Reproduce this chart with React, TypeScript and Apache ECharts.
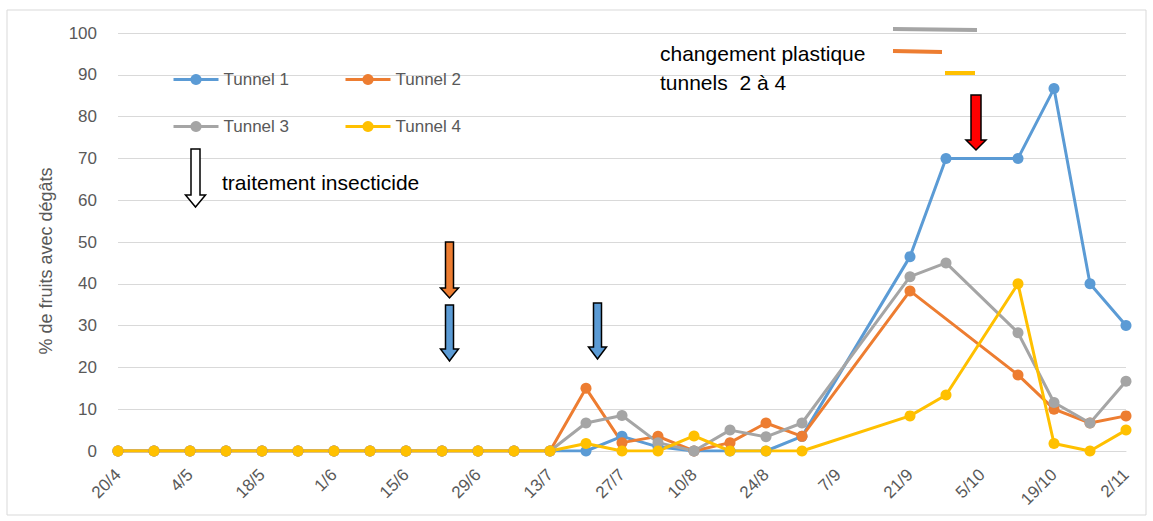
import React, { useEffect, useRef } from "react";
import * as echarts from "echarts";

const dates = [
  "20/4", "27/4", "4/5", "11/5", "18/5", "25/5", "1/6", "8/6", "15/6", "22/6",
  "29/6", "6/7", "13/7", "20/7", "27/7", "3/8", "10/8", "17/8", "24/8", "31/8",
  "7/9", "14/9", "21/9", "28/9", "5/10", "12/10", "19/10", "26/10", "2/11",
];

const tunnel1 = [0, 0, 0, 0, 0, 0, 0, 0, 0, 0, 0, 0, 0, 0, 3.5, 1, 0, 0, 0, 3.5, null, null, 46.5, 70, null, 70, 86.7, 40, 30];
const tunnel2 = [0, 0, 0, 0, 0, 0, 0, 0, 0, 0, 0, 0, 0, 15, 2, 3.5, 0, 2, 6.7, 3.5, null, null, 38.3, null, null, 18.2, 10, 6.7, 8.4];
const tunnel3 = [0, 0, 0, 0, 0, 0, 0, 0, 0, 0, 0, 0, 0, 6.7, 8.5, 2, 0, 5, 3.4, 6.7, null, null, 41.7, 45, null, 28.3, 11.6, 6.7, 16.7];
const tunnel4 = [0, 0, 0, 0, 0, 0, 0, 0, 0, 0, 0, 0, 0, 1.8, 0, 0, 3.6, 0, 0, 0, null, null, 8.4, 13.4, null, 40, 1.8, 0, 5];

const seriesNames = ["Tunnel 1", "Tunnel 2", "Tunnel 3", "Tunnel 4"];
const seriesData = [tunnel1, tunnel2, tunnel3, tunnel4];
const colors = ["#5B9BD5", "#ED7D31", "#A5A5A5", "#FFC000"];

const yAxisName = "% de fruits avec dégâts";
const noteInsecticide = "traitement insecticide";
const notePlastic1 = "changement plastique";
const notePlastic2 = "tunnels  2 à 4";

function arrow(cx: number, top: number, headTop: number, tip: number, sh: number, hh: number, fill: string) {
  return {
    type: "polygon",
    shape: {
      points: [
        [cx - sh, top], [cx + sh, top], [cx + sh, headTop], [cx + hh, headTop],
        [cx, tip], [cx - hh, headTop], [cx - sh, headTop],
      ],
    },
    style: { fill, stroke: "#000", lineWidth: 1.5 },
    z: 100,
  };
}

export default function App() {
  const ref = useRef<HTMLDivElement>(null);
  useEffect(() => {
    if (!ref.current) return;
    const chart = echarts.init(ref.current, null, { renderer: "svg" });
    const font = "Liberation Sans, Arial, sans-serif";
    const legendPos = [
      [172, 71], [344, 71], [172, 118], [344, 118],
    ];
    chart.setOption({
      animation: false,
      color: colors,
      textStyle: { fontFamily: font },
      grid: { left: 118, right: 27, top: 33, bottom: 70, containLabel: false },
      legend: seriesNames.map((n, i) => ({
        data: [n],
        left: legendPos[i][0],
        top: legendPos[i][1],
        padding: 0,
        itemWidth: 45,
        itemHeight: 14,
        itemGap: 4,
        lineStyle: { width: 3 },
        textStyle: { fontSize: 17, color: "#595959", fontFamily: font },
      })),
      xAxis: {
        type: "category",
        data: dates,
        boundaryGap: false,
        axisLine: { lineStyle: { color: "#D9D9D9", width: 1 } },
        axisTick: { show: false },
        axisLabel: { interval: 1, rotate: 45, fontSize: 17, color: "#595959", margin: 21 },
        splitLine: { show: false },
      },
      yAxis: {
        type: "value",
        min: 0,
        max: 100,
        interval: 10,
        axisLine: { show: false },
        axisTick: { show: false },
        axisLabel: { fontSize: 17, color: "#595959", margin: 21 },
        splitLine: { lineStyle: { color: "#D9D9D9", width: 1 } },
      },
      series: seriesNames.map((n, i) => ({
        name: n,
        type: "line",
        data: seriesData[i],
        connectNulls: true,
        symbol: "circle",
        symbolSize: 11,
        lineStyle: { width: 3, color: colors[i] },
        itemStyle: { color: colors[i] },
      })),
      graphic: [
        {
          type: "rect",
          shape: { x: 7, y: 10, width: 1139, height: 505 },
          style: { fill: "none", stroke: "#D9D9D9", lineWidth: 1 },
          silent: true,
        },
        {
          type: "text", x: 46, y: 261, rotation: Math.PI / 2, z: 100,
          style: { text: yAxisName, font: `18px ${font}`, fill: "#595959", align: "center", verticalAlign: "middle" },
        },
        arrow(195.5, 149, 195, 207, 4.5, 10, "#FFFFFF"),
        arrow(449.5, 242, 288, 298, 4, 9, "#ED7D31"),
        arrow(449.5, 305, 349, 361, 4, 9, "#5B9BD5"),
        arrow(597.5, 303, 347, 359, 4, 9, "#5B9BD5"),
        arrow(976, 95, 140, 150, 5, 10, "#FF0000"),
        {
          type: "text", x: 222, y: 182, z: 100,
          style: { text: noteInsecticide, font: `21px ${font}`, fill: "#000", verticalAlign: "middle" },
        },
        {
          type: "text", x: 660, y: 53, z: 100,
          style: { text: notePlastic1, font: `21px ${font}`, fill: "#000", verticalAlign: "middle" },
        },
        {
          type: "text", x: 660, y: 82, z: 100,
          style: { text: notePlastic2, font: `21px ${font}`, fill: "#000", verticalAlign: "middle" },
        },
        { type: "line", z: 100, shape: { x1: 893, y1: 29, x2: 977, y2: 30 }, style: { stroke: "#A5A5A5", lineWidth: 4 } },
        { type: "line", z: 100, shape: { x1: 893, y1: 51, x2: 942, y2: 52 }, style: { stroke: "#ED7D31", lineWidth: 4 } },
        { type: "line", z: 100, shape: { x1: 945, y1: 73, x2: 975, y2: 73 }, style: { stroke: "#FFC000", lineWidth: 4 } },
      ],
    });
    return () => chart.dispose();
  }, []);
  return <div ref={ref} style={{ position: "fixed", left: 0, top: 0, width: 1153, height: 521, background: "#fff" }} />;
}
